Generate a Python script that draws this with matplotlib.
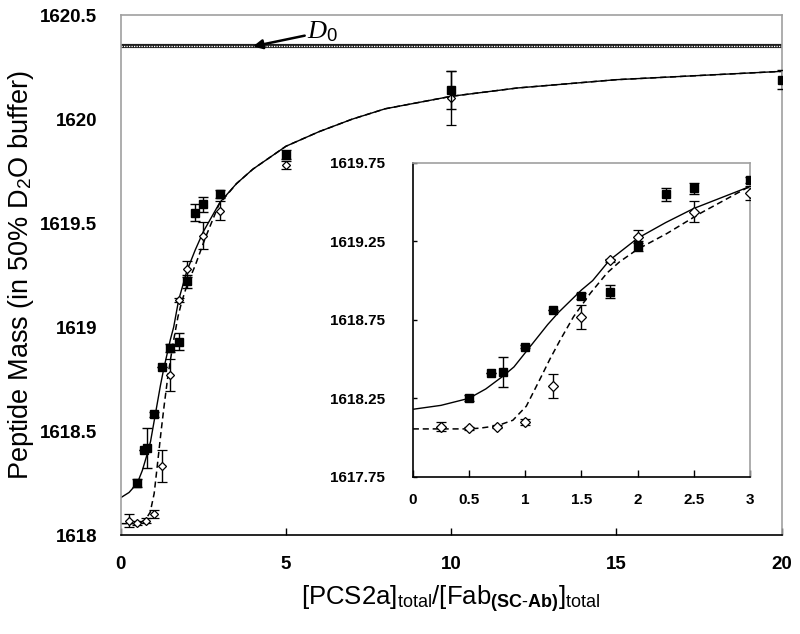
import numpy as np
import matplotlib
matplotlib.use('Agg')
import matplotlib.pyplot as plt

plt.rcParams['font.family'] = ['Liberation Sans', 'DejaVu Sans']
plt.rcParams['mathtext.fontset'] = 'custom'
plt.rcParams['mathtext.rm'] = 'Liberation Sans'
plt.rcParams['mathtext.bf'] = 'Liberation Sans:bold'
plt.rcParams['mathtext.it'] = 'Liberation Serif:italic'

# filled squares
sq_x = [0.5, 0.7, 0.8, 1.0, 1.25, 1.5, 1.75, 2.0, 2.25, 2.5, 3.0, 5, 10, 20]
sq_y = [1618.25, 1618.41, 1618.42, 1618.58, 1618.81, 1618.90, 1618.93, 1619.22,
        1619.55, 1619.59, 1619.64, 1619.83, 1620.14, 1620.19]
sq_err = [0.02, 0.0, 0.095, 0.01, 0.0, 0.02, 0.04, 0.03, 0.04, 0.035, 0.02, 0.02, 0.09, 0.045]

# open diamonds
di_x = [0.25, 0.5, 0.75, 1.0, 1.25, 1.5, 1.75, 2.0, 2.5, 3.0, 5, 10]
di_y = [1618.07, 1618.06, 1618.07, 1618.10, 1618.33, 1618.77, 1619.13, 1619.28,
        1619.44, 1619.56, 1619.78, 1620.10]
di_err = [0.03, 0.01, 0.01, 0.02, 0.077, 0.077, 0.01, 0.04, 0.065, 0.045, 0.02, 0.13]

# fitted curves
fit1_x = [0, 0.25, 0.5, 0.65, 0.8, 0.9, 1.0, 1.1, 1.2, 1.3, 1.4, 1.5, 1.6, 1.75, 2.0,
          2.25, 2.5, 2.75, 3.0, 3.5, 4, 5, 6, 7, 8, 10, 12, 15, 20]
fit1_y = [1618.18, 1618.205, 1618.25, 1618.31, 1618.39, 1618.45, 1618.54, 1618.63,
          1618.72, 1618.80, 1618.87, 1618.94, 1619.00, 1619.13, 1619.27, 1619.37,
          1619.46, 1619.53, 1619.60, 1619.69, 1619.76, 1619.87, 1619.94, 1620.00,
          1620.05, 1620.11, 1620.15, 1620.19, 1620.23]
fit2_x = [0, 0.5, 0.6, 0.75, 0.89, 1.01, 1.13, 1.22, 1.31, 1.43, 1.58, 1.73, 1.84,
          2.0, 2.26, 2.56, 2.97, 3.5, 4, 5, 6, 7, 8, 10, 12, 15, 20]
fit2_y = [1618.055, 1618.055, 1618.06, 1618.075, 1618.11, 1618.20, 1618.37, 1618.50,
          1618.62, 1618.77, 1618.92, 1619.05, 1619.12, 1619.20, 1619.30, 1619.43,
          1619.59, 1619.69, 1619.76, 1619.87, 1619.94, 1620.00, 1620.05, 1620.11,
          1620.15, 1620.19, 1620.23]

d0 = 1620.35

fig = plt.figure(figsize=(8, 6.34), dpi=100)
ax = fig.add_axes([0.151, 0.156, 0.826, 0.820])


def draw(a, xmax, ms_sq, ms_di):
    a.plot(fit1_x, fit1_y, color='black', lw=1.0, zorder=2)
    a.plot(fit2_x, fit2_y, color='black', lw=1.1, dashes=(4, 2.5), zorder=2)
    sx = [x for x in sq_x if x <= xmax]
    dx = [x for x in di_x if x <= xmax]
    n1, n2 = len(sx), len(dx)
    a.errorbar(sx, sq_y[:n1], yerr=sq_err[:n1], fmt='s', color='black', ms=ms_sq,
               mfc='black', mec='black', elinewidth=1, capsize=3.5, capthick=1, zorder=4)
    a.errorbar(dx, di_y[:n2], yerr=di_err[:n2], fmt='D', color='black', ms=ms_di,
               mfc='white', mec='black', mew=0.9, elinewidth=1, capsize=3.5, capthick=1,
               zorder=3)


draw(ax, 20, 5.5, 4.5)

# D0 line
ax.axhline(d0, color='#202020', lw=3.0, zorder=2)
ax.axhline(d0, color='white', lw=0.9, ls=(0, (1, 1)), zorder=2)
ax.annotate(r'$D_{\mathit{0}}$', xy=(4.0, d0), xytext=(5.65, 1620.42), fontsize=19,
            ha='left', va='center',
            arrowprops=dict(arrowstyle='-|>', color='black', lw=1.8,
                            shrinkA=0, shrinkB=0, mutation_scale=14))

ax.set_xlim(0, 20)
ax.set_ylim(1618, 1620.5)
ax.set_xticks([0, 5, 10, 15, 20])
ax.set_xticklabels(['0', '5', '10', '15', '20'])
ax.set_yticks([1618, 1618.5, 1619, 1619.5, 1620, 1620.5])
ax.set_yticklabels(['1618', '1618.5', '1619', '1619.5', '1620', '1620.5'])
ax.tick_params(axis='x', direction='in', length=5, width=1, pad=15, labelsize=13.5)
ax.tick_params(axis='y', length=0, pad=17, labelsize=13.5)
for lbl in ax.get_xticklabels() + ax.get_yticklabels():
    lbl.set_fontweight('bold')
for s in ['top', 'right', 'left']:
    ax.spines[s].set_color('#a0a0a0')
    ax.spines[s].set_linewidth(1.2)
ax.spines['bottom'].set_color('black')
ax.spines['bottom'].set_linewidth(1.2)

ax.set_ylabel(r'Peptide Mass (in 50% D$_2$O buffer)', fontsize=19.5, labelpad=3)
ax.set_xlabel(r'[PCS2a]$_{\mathrm{total}}$/[Fab$_{\mathbf{(SC\text{-}Ab)}}$]$_{\mathrm{total}}$',
              fontsize=18.5, labelpad=8)

# inset
ins = fig.add_axes([0.516, 0.248, 0.4215, 0.495])
draw(ins, 3, 5.5, 5)
ins.set_xlim(0, 3)
ins.set_ylim(1617.75, 1619.75)
ins.set_xticks([0, 0.5, 1, 1.5, 2, 2.5, 3])
ins.set_xticklabels(['0', '0.5', '1', '1.5', '2', '2.5', '3'])
ins.set_yticks([1617.75, 1618.25, 1618.75, 1619.25, 1619.75])
ins.set_yticklabels(['1617.75', '1618.25', '1618.75', '1619.25', '1619.75'])
ins.tick_params(axis='x', direction='in', length=5, width=1, pad=12, labelsize=11)
ins.tick_params(axis='y', direction='in', length=3, width=1, pad=20, labelsize=11)
for lbl in ins.get_xticklabels() + ins.get_yticklabels():
    lbl.set_fontweight('bold')
for s in ['top', 'right']:
    ins.spines[s].set_color('#a0a0a0')
    ins.spines[s].set_linewidth(1.2)
for s in ['bottom', 'left']:
    ins.spines[s].set_color('black')
    ins.spines[s].set_linewidth(1.2)

fig.savefig('out.png', dpi=100)
